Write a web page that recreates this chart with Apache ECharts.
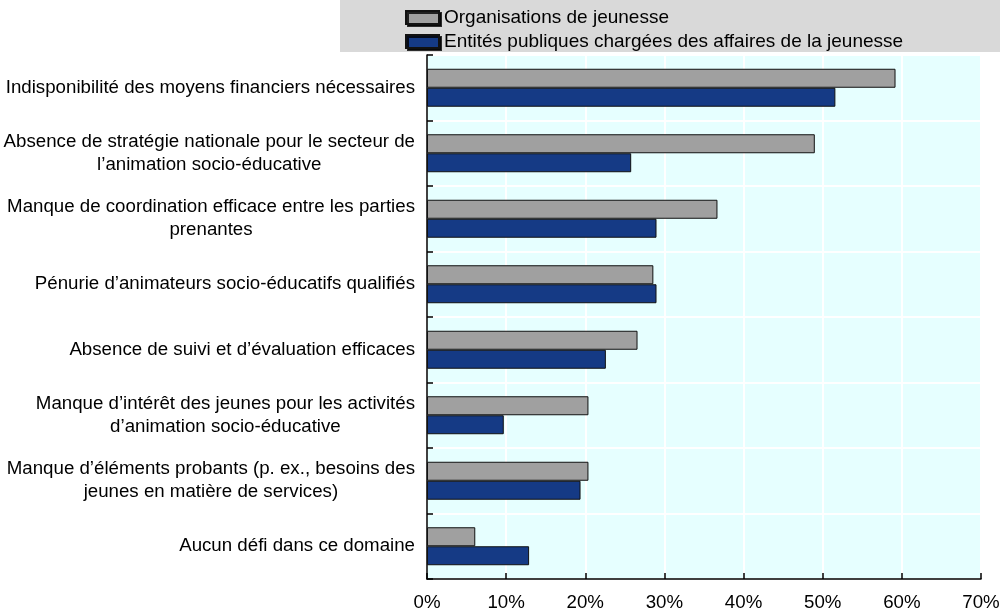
<!DOCTYPE html>
<html>
<head>
<meta charset="utf-8">
<script src="https://cdn.jsdelivr.net/npm/echarts@6/dist/echarts.min.js"></script>
<style>
html,body{margin:0;padding:0;background:#fff;}
#chart{width:1000px;height:615px;}
</style>
</head>
<body>
<div id="chart"></div>
<script>
const categories = [
  "Indisponibilité des moyens financiers nécessaires",
  "Absence de stratégie nationale pour le secteur de\nl’animation socio-éducative",
  "Manque de coordination efficace entre les parties\nprenantes",
  "Pénurie d’animateurs socio-éducatifs qualifiés",
  "Absence de suivi et d’évaluation efficaces",
  "Manque d’intérêt des jeunes pour les activités\nd’animation socio-éducative",
  "Manque d’éléments probants (p. ex., besoins des\njeunes en matière de services)",
  "Aucun défi dans ce domaine"
];
const seriesNames = ["Organisations de jeunesse", "Entités publiques chargées des affaires de la jeunesse"];
const youthOrgs = [59.2, 49.0, 36.7, 28.6, 26.6, 20.4, 20.4, 6.1];
const publicEntities = [51.6, 25.8, 29.0, 29.0, 22.6, 9.7, 19.4, 12.9];
const xTicks = [0, 10, 20, 30, 40, 50, 60, 70];

const FONT = "'Liberation Sans Narrow','Arial Narrow','Liberation Sans',Arial,sans-serif";
const FS = 18.7;
const chart = echarts.init(document.getElementById('chart'));
chart.setOption({
  animation: false,
  textStyle: { fontFamily: FONT },
  graphic: [{
    type: 'rect', left: 340, top: 0, z: -1,
    shape: { width: 660, height: 52 },
    style: { fill: '#d9d9d9' }
  }],
  legend: {
    orient: 'vertical', left: 400, top: 3,
    icon: 'rect',
    itemWidth: 33, itemHeight: 13, itemGap: 5,
    itemStyle: { shadowColor: 'rgba(0,0,0,0.8)', shadowOffsetX: 2, shadowOffsetY: 2, shadowBlur: 0 },
    textStyle: { fontFamily: FONT, fontSize: 19, color: '#000' },
    data: seriesNames
  },
  grid: {
    left: 427, right: 19, top: 55, bottom: 36,
    containLabel: false, outerBoundsMode: 'none',
    show: true, backgroundColor: '#e6ffff', borderColor: '#000', borderWidth: 1
  },
  xAxis: {
    type: 'value', min: xTicks[0], max: xTicks[xTicks.length - 1], interval: 10,
    axisLine: { show: true, lineStyle: { color: '#000', width: 1.5 } },
    axisTick: { show: true, inside: true, length: 6, lineStyle: { color: '#000', width: 1.5 } },
    axisLabel: { formatter: '{value}%', fontFamily: FONT, fontSize: FS, color: '#000', margin: 14 },
    splitLine: { show: true, lineStyle: { color: '#ffffff', width: 2 } }
  },
  yAxis: {
    type: 'category', inverse: true, data: categories,
    axisLine: { show: true, lineStyle: { color: '#000', width: 1.5 } },
    axisTick: { show: true, inside: true, length: 6, lineStyle: { color: '#000', width: 1.5 } },
    splitLine: { show: true, lineStyle: { color: '#ffffff', width: 2 } },
    axisLabel: {
      margin: 12, color: '#000', fontFamily: FONT, fontSize: FS, lineHeight: 23,
      formatter: function (v) { return v.split('\n').map(l => '{c|' + l + '}').join('\n'); },
      rich: { c: { align: 'center', fontFamily: FONT, fontSize: FS, lineHeight: 23, color: '#000' } }
    }
  },
  series: [
    {
      name: seriesNames[0], type: 'bar', data: youthOrgs,
      barGap: '0%', barCategoryGap: '42%',
      itemStyle: { color: '#a0a0a0', borderColor: '#111', borderWidth: 1 }
    },
    {
      name: seriesNames[1], type: 'bar', data: publicEntities,
      barGap: '0%', barCategoryGap: '42%',
      itemStyle: { color: '#153a85', borderColor: '#111', borderWidth: 1 }
    }
  ]
});
</script>
</body>
</html>
